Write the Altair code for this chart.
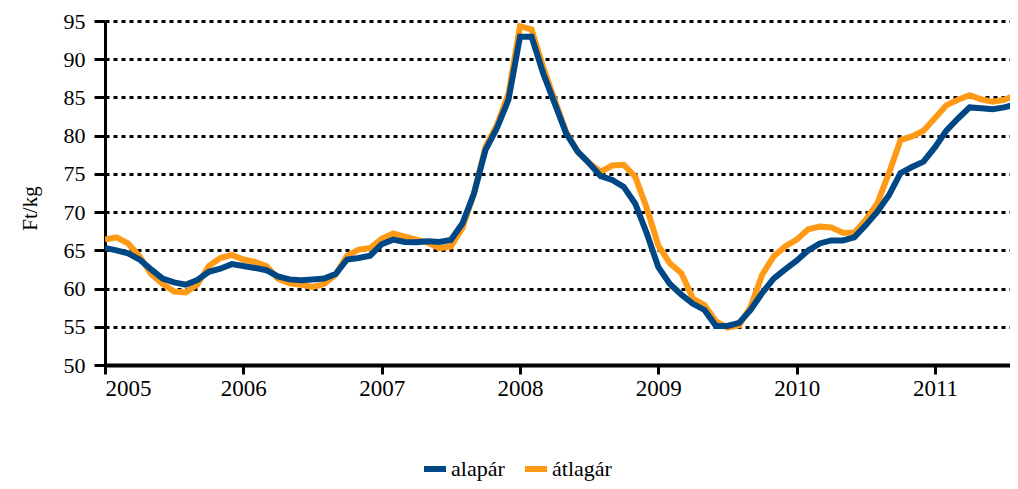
import altair as alt
import pandas as pd

# Monthly data Jan 2005 - Aug 2011
alapar = [
    65.3, 65.0, 64.6, 63.8, 62.5, 61.3, 60.8, 60.5, 61.1, 62.2, 62.6, 63.2,
    62.95, 62.7, 62.4, 61.6, 61.2, 61.1, 61.2, 61.3, 61.9, 63.8, 64.0, 64.3,
    65.8, 66.4, 66.1, 66.05, 66.2, 66.1, 66.35, 68.5, 72.4, 78.1, 81.0, 84.7,
    92.95, 92.95, 88.2, 84.25, 80.3, 77.9, 76.4, 74.7, 74.2, 73.3, 71.1, 67.2,
    62.8, 60.6, 59.2, 58.0, 57.2, 55.1, 55.1, 55.5, 57.2, 59.4, 61.3, 62.5,
    63.65, 65.0, 65.9, 66.3, 66.3, 66.7, 68.3, 70.05, 72.2, 75.1, 75.9, 76.6,
    78.5, 80.7, 82.25, 83.7, 83.6, 83.45, 83.7, 84.1,
]
atlagar = [
    66.4, 66.7, 65.9, 64.2, 61.9, 60.6, 59.6, 59.5, 60.5, 62.95, 64.0, 64.4,
    63.8, 63.5, 62.95, 61.3, 60.7, 60.5, 60.2, 60.6, 61.8, 64.3, 65.1, 65.3,
    66.5, 67.2, 66.8, 66.4, 66.0, 65.3, 65.5, 67.9, 72.4, 78.5, 81.4, 85.5,
    94.3, 93.9, 89.0, 84.7, 80.5, 77.9, 76.4, 75.3, 76.1, 76.2, 74.6, 70.5,
    65.6, 63.3, 62.0, 58.7, 57.85, 55.7, 54.9, 55.2, 57.6, 61.8, 64.2, 65.5,
    66.4, 67.75, 68.1, 68.0, 67.3, 67.3, 69.0, 71.15, 75.1, 79.4, 79.9, 80.65,
    82.3, 84.0, 84.7, 85.3, 84.75, 84.45, 84.7, 85.3,
]
series_names = ["alapár", "átlagár"]
series_colors = ["#004785", "#FF9A17"]
year_ticks = [2005, 2006, 2007, 2008, 2009, 2010, 2011]
y_ticks = [50, 55, 60, 65, 70, 75, 80, 85, 90, 95]

t = [2005 + i / 12 for i in range(len(alapar))]
df = pd.DataFrame({
    "t": t * 2,
    "value": alapar + atlagar,
    "series": [series_names[0]] * len(alapar) + [series_names[1]] * len(atlagar),
})

FONT = "Liberation Serif"

color = alt.Color(
    "series:N",
    scale=alt.Scale(domain=series_names, range=series_colors),
    legend=alt.Legend(
        title=None, orient="none", direction="horizontal",
        legendX=316, legendY=434,
        symbolType="stroke", symbolStrokeWidth=6, symbolSize=484,
        labelFont=FONT, labelFontSize=22, labelColor="black",
        labelOffset=2, columnPadding=8, padding=0,
    ),
)

x = alt.X(
    "t:Q",
    scale=alt.Scale(domain=[2005, 2011.542], nice=False, zero=False),
    axis=alt.Axis(
        values=year_ticks, format="d", title=None, grid=False,
        domainWidth=4, tickWidth=3, tickSize=9, labelPadding=3,
        labelFontSize=23, labelFont=FONT,
    ),
)
y = alt.Y(
    "value:Q",
    scale=alt.Scale(domain=[50, 95], nice=False, zero=False),
    axis=alt.Axis(
        values=y_ticks, title="Ft/kg", grid=True,
        gridColor="black", gridDash=[4, 4], gridWidth=3,
        domainWidth=3, tickWidth=3, tickSize=11, labelPadding=9,
        labelFontSize=22, labelFont=FONT,
        titleX=-75, titleY=187, titleAngle=270, titleAlign="center",
        titleBaseline="middle", titleFontSize=21, titleFontWeight="normal",
        titleFont=FONT, titleColor="black",
    ),
)

orange = alt.Chart(df).transform_filter(
    alt.datum.series == series_names[1]
).mark_line(strokeWidth=6, clip=True).encode(x=x, y=y, color=color)
blue = alt.Chart(df).transform_filter(
    alt.datum.series == series_names[0]
).mark_line(strokeWidth=6, clip=True).encode(x=x, y=y, color=color)

chart = alt.layer(orange, blue).properties(
    width=905, height=344,
    autosize=alt.AutoSizeParams(type="none"),
    padding={"left": 97, "top": 13, "right": 0, "bottom": 116},
).configure(font=FONT).configure_view(stroke=None).configure_axis(
    labelFont=FONT, labelColor="black", domainColor="black", tickColor="black",
).configure_legend(labelFont=FONT)

chart.save("out.html", embed_options={"renderer": "svg", "actions": False})
